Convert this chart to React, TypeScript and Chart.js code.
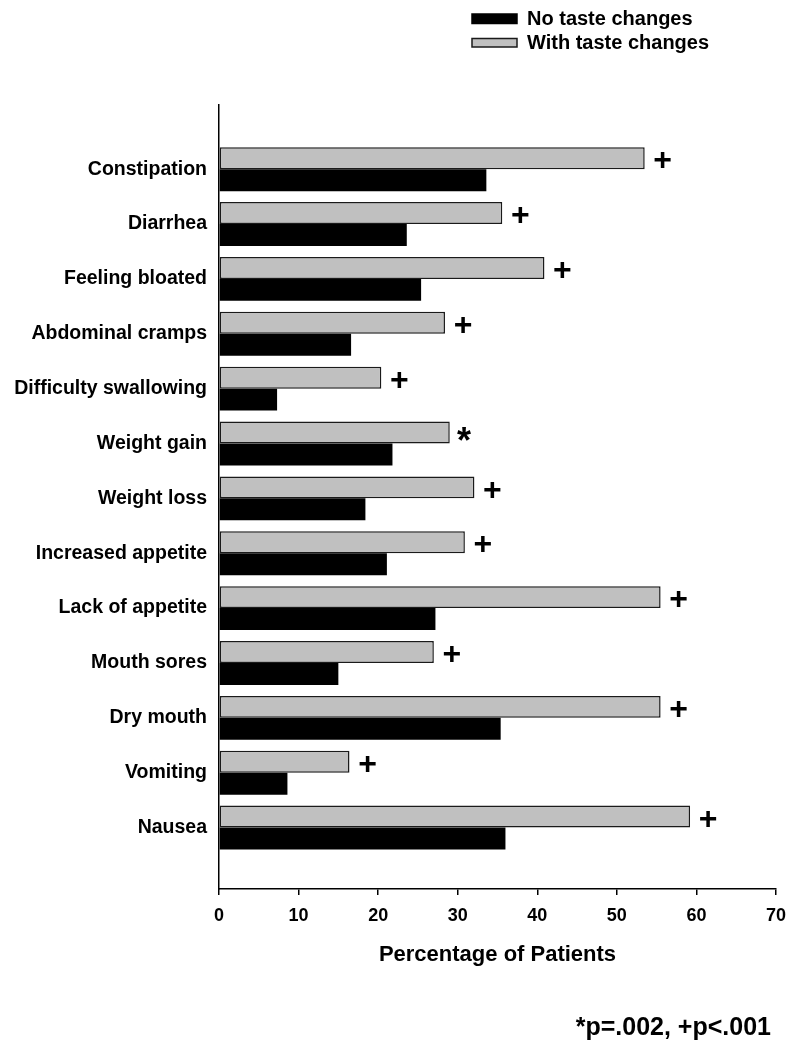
import React, { useEffect, useRef } from 'react';
import { Chart, registerables } from 'chart.js';

Chart.register(...registerables);

const categories = [
  'Constipation',
  'Diarrhea',
  'Feeling bloated',
  'Abdominal cramps',
  'Difficulty swallowing',
  'Weight gain',
  'Weight loss',
  'Increased appetite',
  'Lack of appetite',
  'Mouth sores',
  'Dry mouth',
  'Vomiting',
  'Nausea',
];
const withTaste = [53.5, 35.6, 40.9, 28.4, 20.4, 29.0, 32.1, 30.9, 55.5, 27.0, 55.5, 16.4, 59.2];
const noTaste = [33.6, 23.6, 25.4, 16.6, 7.3, 21.8, 18.4, 21.1, 27.2, 15.0, 35.4, 8.6, 36.0];
const markers = ['+', '+', '+', '+', '+', '*', '+', '+', '+', '+', '+', '+', '+'];
const xTicks = [0, 10, 20, 30, 40, 50, 60, 70];
const seriesLabels = ['No taste changes', 'With taste changes'];
const axisTitle = 'Percentage of Patients';
const footnote = '*p=.002, +p<.001';

const FONT = '"Liberation Sans", Arial, Helvetica, sans-serif';
const GRAY = '#c0c0c0';
const EDGE = '#1a1a1a';

const overlayPlugin = {
  id: 'overlay',
  afterDraw(chart: any) {
    const ctx = chart.ctx as CanvasRenderingContext2D;
    ctx.save();
    ctx.fillStyle = '#000';
    // significance markers at the end of the "with taste changes" bars
    const meta = chart.getDatasetMeta(0);
    meta.data.forEach((bar: any, i: number) => {
      const m = markers[i];
      if (!m) return;
      const { x, y } = bar.getProps(['x', 'y'], true);
      ctx.textAlign = 'center';
      ctx.textBaseline = 'alphabetic';
      if (m === '+') {
        const size = 32;
        ctx.font = `bold ${size}px ${FONT}`;
        ctx.fillText(m, x + 18, y + 1 + 0.35 * size);
      } else {
        const size = 36;
        ctx.font = `bold ${size}px ${FONT}`;
        ctx.fillText(m, x + 14.3, y + 0.56 * size);
      }
    });

    // legend
    const items = [
      { label: seriesLabels[0], fill: '#000', stroke: '#000', top: 14, h: 9.5 },
      { label: seriesLabels[1], fill: GRAY, stroke: EDGE, top: 38.5, h: 8.5 },
    ];
    items.forEach((it) => {
      ctx.fillStyle = it.fill;
      ctx.fillRect(472, it.top, 45, it.h);
      ctx.strokeStyle = it.stroke;
      ctx.lineWidth = 1.5;
      ctx.strokeRect(472, it.top, 45, it.h);
      ctx.fillStyle = '#000';
      ctx.font = `bold 20px ${FONT}`;
      ctx.textAlign = 'left';
      ctx.textBaseline = 'middle';
      ctx.fillText(it.label, 527, it.top + it.h / 2 + 1);
    });

    // footnote
    ctx.fillStyle = '#000';
    ctx.font = `bold 25px ${FONT}`;
    ctx.textAlign = 'right';
    ctx.textBaseline = 'alphabetic';
    ctx.fillText(footnote, 771, 1035);
    ctx.restore();
  },
};

export default function App() {
  const canvasRef = useRef<HTMLCanvasElement | null>(null);

  useEffect(() => {
    const canvas = canvasRef.current;
    if (!canvas) return;
    const chart = new Chart(canvas, {
      type: 'bar',
      data: {
        datasets: [
          {
            label: seriesLabels[1],
            data: withTaste.map((v, i) => ({ x: v, y: i })),
            backgroundColor: GRAY,
            borderColor: EDGE,
            borderWidth: 1.5,
            borderSkipped: false,
          },
          {
            label: seriesLabels[0],
            data: noTaste.map((v, i) => ({ x: v, y: i })),
            backgroundColor: '#000',
            borderColor: '#000',
            borderWidth: 0,
          },
        ],
      } as any,
      options: {
        indexAxis: 'y',
        responsive: false,
        animation: false,
        layout: { padding: { top: 105, right: 18, bottom: 61, left: 0 } },
        plugins: {
          legend: { display: false },
          tooltip: { enabled: false },
        },
        datasets: {
          bar: { barPercentage: 1, categoryPercentage: 0.8 },
        },
        scales: {
          x: {
            type: 'linear',
            position: 'bottom',
            min: 0,
            max: 70,
            afterBuildTicks: (s: any) => {
              s.ticks = xTicks.map((v) => ({ value: v }));
            },
            grid: {
              drawOnChartArea: false,
              drawTicks: true,
              tickLength: 6,
              color: '#000',
              lineWidth: 1.5,
            },
            border: { display: true, color: '#000', width: 1.5 },
            ticks: {
              font: { family: FONT, size: 18, weight: 'bold' },
              color: '#000',
              padding: 10,
              maxRotation: 0,
            },
            title: {
              display: true,
              text: axisTitle,
              font: { family: FONT, size: 22, weight: 'bold' },
              color: '#000',
              padding: { top: 10, bottom: 20.8 },
            },
            afterFit: (s: any) => {
              s.height = 100;
            },
          },
          y: {
            type: 'linear',
            reverse: true,
            offset: false,
            min: -1.17,
            max: 13.12,
            afterBuildTicks: (s: any) => {
              s.ticks = categories.map((_, i) => ({ value: i }));
            },
            grid: { display: false, drawTicks: false },
            border: { display: true, color: '#000', width: 1.5 },
            ticks: {
              callback: (v: any) => categories[v] ?? '',
              font: { family: FONT, size: 19.5, weight: 'bold' },
              color: '#000',
              padding: 12,
              autoSkip: false,
            },
            afterFit: (s: any) => {
              s.width = 219;
            },
          },
        },
      } as any,
      plugins: [overlayPlugin],
    });
    return () => chart.destroy();
  }, []);

  return (
    <div style={{ position: 'absolute', left: 0, top: 0, width: 796, height: 1050, background: '#fff' }}>
      <canvas ref={canvasRef} width={796} height={1050} style={{ display: 'block' }} />
    </div>
  );
}
